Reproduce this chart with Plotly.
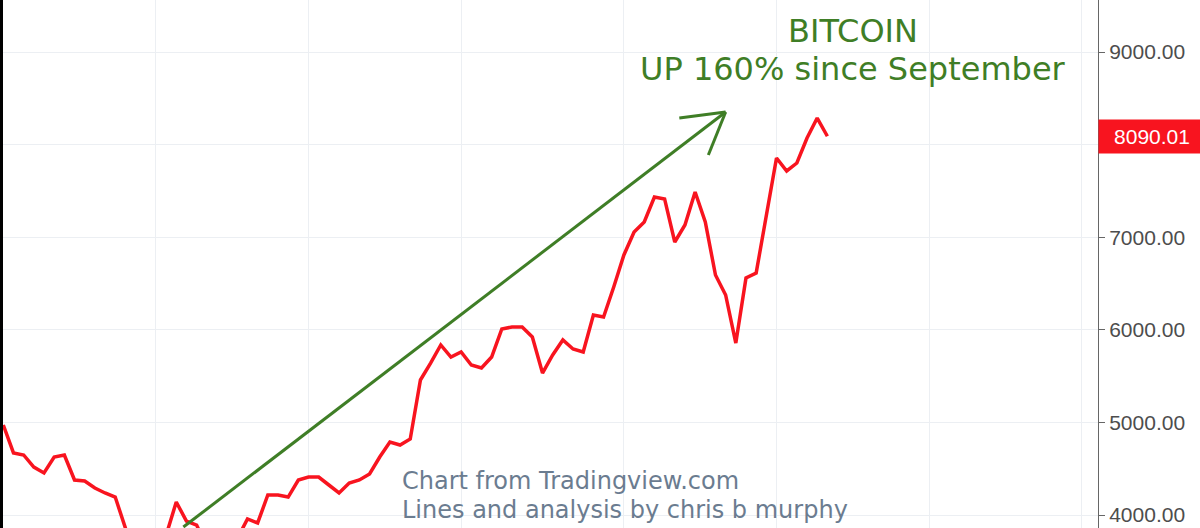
import plotly.graph_objects as go
import pandas as pd

# ---- data (daily BTC closes from 1 Sep 2017) ----
start_date = "2017-09-01"
prices = [
    4972, 4670, 4648, 4518, 4454, 4626, 4648, 4378, 4367, 4292,
    4238, 4194, 3860, 3200, 3650, 3620, 3780, 4140, 3935, 3892,
    3650, 3640, 3780, 3745, 3957, 3914, 4216, 4216, 4194, 4378,
    4410, 4410, 4324, 4238, 4346, 4378, 4443, 4626, 4788, 4756,
    4821, 5458, 5641, 5836, 5706, 5760, 5620, 5587, 5706, 6009,
    6030, 6030, 5922, 5533, 5728, 5890, 5793, 5760, 6160, 6138,
    6462, 6808, 7056, 7164, 7434, 7413, 6948, 7132, 7488, 7164,
    6592, 6376, 5857, 6559, 6613, 7261, 7855, 7715, 7801, 8071,
    8287, 8090.01,
]
last_price = prices[-1]

y_tick_values = [4000, 5000, 6000, 7000, 8000, 9000]
y_tick_labels = ["4000.00", "5000.00", "6000.00", "7000.00", "", "9000.00"]
x_grid_dates = ["2017-09-16", "2017-10-01", "2017-10-16", "2017-11-01",
                "2017-11-16", "2017-12-01", "2017-12-16"]

# hand-drawn trend arrow: (days after start, price)
arrow_tail = (17.7, 3870)
arrow_tip = (71.0, 8352)
arrow_wing1 = (66.45, 8287)
arrow_wing2 = (69.3, 7888)

title_line1 = "BITCOIN"
title_line2 = "UP 160% since September"
credit_line1 = "Chart from Tradingview.com"
credit_line2 = "Lines and analysis by chris b murphy"

# ---- build ----
t0 = pd.Timestamp(start_date)
dates = pd.date_range(start_date, periods=len(prices), freq="D")


def day(d):
    return t0 + pd.Timedelta(days=d)


RED = "#f8141f"
GREEN = "#3f7e26"
GRID = "#eceff3"
AXIS = "#666666"

fig = go.Figure()
fig.add_trace(go.Scatter(x=dates, y=prices, mode="lines",
                         line=dict(color=RED, width=3.5), hoverinfo="skip",
                         showlegend=False))

shapes = [
    dict(type="rect", xref="paper", yref="paper", x0=-0.003, x1=0, y0=0, y1=1,
         fillcolor="black", line=dict(width=0), layer="above"),
]
for a, b in [(arrow_tail, arrow_tip), (arrow_wing1, arrow_tip), (arrow_wing2, arrow_tip)]:
    shapes.append(dict(type="line", xref="x", yref="y",
                       x0=day(a[0]), y0=a[1], x1=day(b[0]), y1=b[1],
                       line=dict(color=GREEN, width=3)))

annotations = [
    dict(xref="paper", yref="paper", x=0.776, y=1 - 31 / 528, text=title_line1,
         showarrow=False, xanchor="center", yanchor="middle",
         font=dict(family="DejaVu Sans", size=32, color=GREEN)),
    dict(xref="paper", yref="paper", x=0.776, y=1 - 69 / 528, text=title_line2,
         showarrow=False, xanchor="center", yanchor="middle",
         font=dict(family="DejaVu Sans", size=32, color=GREEN)),
    dict(xref="paper", yref="paper", x=(400 - 3) / 1095, y=1 - 481 / 528, text=credit_line1,
         showarrow=False, xanchor="left", yanchor="middle",
         font=dict(family="DejaVu Sans", size=24, color="#6b7c90")),
    dict(xref="paper", yref="paper", x=(400 - 3) / 1095, y=1 - 510 / 528, text=credit_line2,
         showarrow=False, xanchor="left", yanchor="middle",
         font=dict(family="DejaVu Sans", size=24, color="#6b7c90")),
    dict(xref="paper", yref="y", x=1, y=last_price, text=f"{last_price:.2f}",
         showarrow=False, xanchor="left", yanchor="middle", width=96, align="center",
         bgcolor=RED, borderpad=5,
         font=dict(family="Liberation Sans, Arial", size=21, color="white")),
]

fig.update_layout(
    width=1200, height=528,
    margin=dict(l=3, r=102, t=0, b=0),
    paper_bgcolor="white", plot_bgcolor="white",
    shapes=shapes, annotations=annotations,
    xaxis=dict(type="date", range=[day(-0.03), day(107.6)],
               tickvals=x_grid_dates, showticklabels=False, ticks="",
               showgrid=True, gridcolor=GRID, gridwidth=1,
               zeroline=False, showline=False),
    yaxis=dict(side="right", range=[3859.6, 9561.6],
               tickvals=y_tick_values, ticktext=y_tick_labels,
               ticks="outside", ticklen=6, tickcolor=AXIS,
               showline=True, linecolor=AXIS, linewidth=1,
               showgrid=True, gridcolor=GRID, gridwidth=1, zeroline=False,
               tickfont=dict(family="Liberation Sans, Arial", size=21, color="#4d4d4d")),
)

fig.write_html("out.html", config={"displayModeBar": False, "staticPlot": True},
               post_script="document.body.style.margin='0';document.body.style.overflow='hidden';")
